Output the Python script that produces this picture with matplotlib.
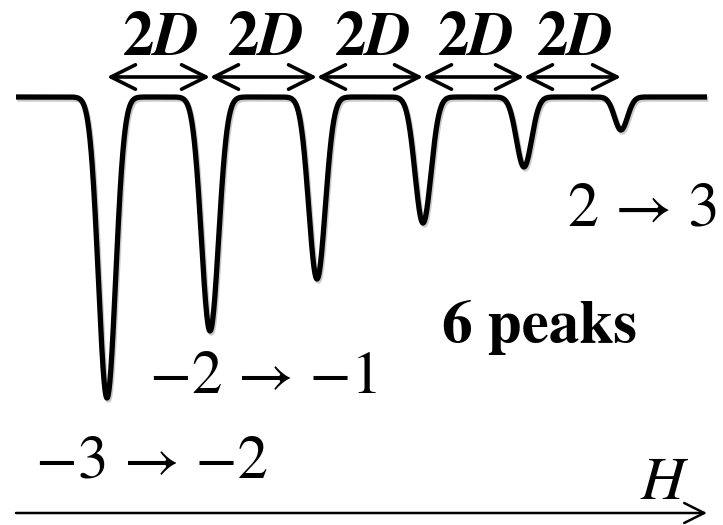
import numpy as np
import matplotlib.pyplot as plt
import matplotlib.patheffects as pe

plt.rcParams['font.family'] = ['STIXGeneral', 'Liberation Serif', 'DejaVu Serif']
plt.rcParams['mathtext.fontset'] = 'stix'

# Absorption dips (field position, dip bottom, width) in drawing units
peak_centers = [107, 210, 317, 423, 524, 621]
peak_bottoms = [398, 331, 279, 223, 167, 130]
peak_widths = [8.6, 8.6, 8.3, 8.0, 7.6, 6.5]
baseline = 97
line_start, line_end = 16, 707

spacing_label = r'$\mathbf{2}\mathbfit{D}$'
transition_labels = ['2 → 3', '6 peaks', '−2 → −1', '−3 → −2']
axis_label = '$H$'

fig = plt.figure(figsize=(7.23, 5.25), dpi=100)
ax = fig.add_axes([0, 0, 1, 1])
ax.set_xlim(0, 723)
ax.set_ylim(525, 0)
ax.axis('off')

x = np.linspace(line_start, line_end, 3000)
y = np.full_like(x, float(baseline))
for c, b, w in zip(peak_centers, peak_bottoms, peak_widths):
    y += (b - baseline) * np.exp(-0.5 * ((x - c) / w) ** 2)

shadow = [pe.SimpleLineShadow(offset=(1, -1.5), shadow_color='0.6', alpha=0.5), pe.Normal()]
ax.plot(x, y, color='black', lw=3.8, solid_capstyle='butt', path_effects=shadow)

# double arrows marking the 2D spacing between neighbouring dips
arrow_y = 77
for c1, c2 in zip(peak_centers[:-1], peak_centers[1:]):
    ax.annotate('', xy=(c2, arrow_y), xytext=(c1, arrow_y),
                arrowprops=dict(arrowstyle='<->,head_length=0.4,head_width=0.2',
                                lw=2.6, color='black', shrinkA=0, shrinkB=0,
                                mutation_scale=44))
    ax.text((c1 + c2) / 2 + 2, 55, spacing_label, fontsize=45, ha='center',
            va='baseline', color='black')

ax.text(568, 225, transition_labels[0], fontsize=45, ha='left', va='baseline')
ax.text(442, 342, transition_labels[1], fontsize=44, ha='left', va='baseline',
        fontweight='bold')
ax.text(150, 393, transition_labels[2], fontsize=44, ha='left', va='baseline')
ax.text(36, 478, transition_labels[3], fontsize=44, ha='left', va='baseline')

# field axis
ax.annotate('', xy=(707, 513), xytext=(16, 513),
            arrowprops=dict(arrowstyle='->,head_length=0.4,head_width=0.2',
                            lw=1.8, color='black', shrinkA=0, shrinkB=0,
                            mutation_scale=36))
ax.text(640, 499, axis_label, fontsize=44, ha='left', va='baseline')

fig.savefig('out.png', dpi=100)
